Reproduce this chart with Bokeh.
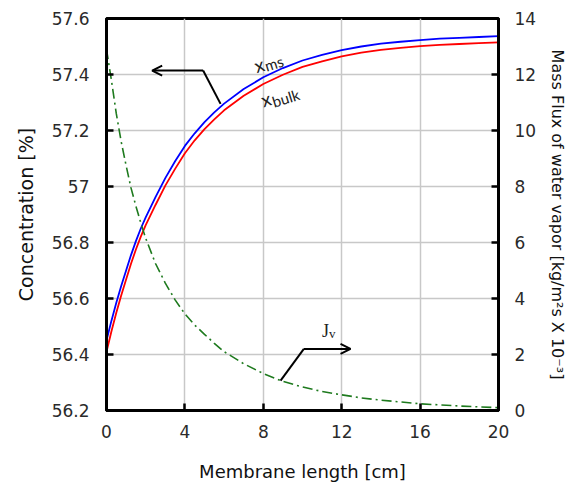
import math
from bokeh.plotting import figure
from bokeh.models import (Range1d, LinearAxis, FixedTicker, CustomJSTickFormatter,
                          Arrow, OpenHead, Label)
from bokeh.embed import file_html
from bokeh.resources import INLINE

# ---- data ----
length_cm = [0, 0.25, 0.5, 0.75, 1, 1.25, 1.5, 1.75, 2, 2.5, 3, 3.5, 4, 4.5, 5, 5.5, 6,
             7, 8, 9, 10, 11, 12, 13, 14, 15, 16, 17, 18, 19, 20]
x_ms = [56.45, 56.52, 56.585, 56.645, 56.70, 56.755, 56.805, 56.85, 56.89, 56.962,
        57.03, 57.09, 57.145, 57.19, 57.23, 57.265, 57.296, 57.348, 57.39, 57.423,
        57.45, 57.47, 57.487, 57.5, 57.51, 57.517, 57.523, 57.528, 57.531, 57.534, 57.537]
x_bulk = [56.41, 56.482, 56.549, 56.611, 56.668, 56.724, 56.775, 56.821, 56.862, 56.934,
          57.003, 57.063, 57.119, 57.165, 57.205, 57.24, 57.272, 57.324, 57.366, 57.399,
          57.427, 57.447, 57.465, 57.478, 57.488, 57.495, 57.501, 57.506, 57.509, 57.512,
          57.515]

flux_len = [0, 0.25, 0.5, 0.75, 1, 1.25, 1.5, 1.75, 2, 2.5, 3, 3.5, 4, 4.5, 5, 5.5, 6,
            7, 8, 9, 10, 11, 12, 13, 14, 16, 18, 20]
flux_jv = [12.9, 11.8, 10.6, 9.6, 8.75, 7.95, 7.3, 6.7, 6.15, 5.25, 4.55, 3.95, 3.45,
           3.05, 2.72, 2.4, 2.1, 1.67, 1.32, 1.04, 0.84, 0.68, 0.56, 0.45, 0.37, 0.24,
           0.16, 0.10]

x_ticks = [0, 4, 8, 12, 16, 20]
conc_ticks = [56.2, 56.4, 56.6, 56.8, 57.0, 57.2, 57.4, 57.6]
flux_ticks = [0, 2, 4, 6, 8, 10, 12, 14]

# annotation anchor points (data coords)
xs_arrow_path = ([5.82, 4.93], [57.295, 57.414])
xs_arrow_tip = (2.33, 57.414)
jv_arrow_path = ([8.88, 10.07], [1.07, 2.2])
jv_arrow_tip = (12.45, 2.2)

FONT = "DejaVu Sans"

p = figure(width=566, height=480, output_backend="svg", toolbar_location=None,
           x_range=Range1d(0, 20), y_range=Range1d(56.2, 57.6),
           frame_width=392, frame_height=392,
           min_border_left=106, min_border_top=18, min_border_right=66, min_border_bottom=70)
p.extra_y_ranges = {"flux": Range1d(0, 14)}

p.outline_line_color = "black"
p.outline_line_width = 3
p.background_fill_color = "white"
p.border_fill_color = "white"

# grids
p.xgrid.ticker = FixedTicker(ticks=x_ticks)
p.ygrid.ticker = FixedTicker(ticks=conc_ticks)
for g in (p.xgrid, p.ygrid):
    g.grid_line_color = "#c8c8c8"
    g.grid_line_width = 1.5

# lines
p.line(length_cm, x_ms, line_color="#0000ff", line_width=1.8)
p.line(length_cm, x_bulk, line_color="#ff0000", line_width=1.8)
p.line(flux_len, flux_jv, y_range_name="flux", line_color="#1e7a1e", line_width=1.6,
       line_dash="10 4 2 4")

# axes styling
def style_axis(ax, standoff, label_standoff, label_size):
    ax.axis_line_color = "black"
    ax.axis_line_width = 3
    ax.major_tick_in = 7
    ax.major_tick_out = 0
    ax.major_tick_line_width = 2.5
    ax.minor_tick_line_color = None
    ax.major_label_text_font = FONT
    ax.major_label_text_font_size = "17px"
    ax.major_label_text_color = "#2a2a2a"
    ax.major_label_standoff = standoff
    ax.axis_label_text_font = FONT
    ax.axis_label_text_font_size = label_size
    ax.axis_label_text_font_style = "normal"
    ax.axis_label_text_color = "#111111"
    ax.axis_label_standoff = label_standoff

xa = p.xaxis[0]
xa.ticker = FixedTicker(ticks=x_ticks)
xa.axis_label = "Membrane length [cm]"
style_axis(xa, 14, 20, "18px")

ya = p.yaxis[0]
ya.ticker = FixedTicker(ticks=conc_ticks)
ya.formatter = CustomJSTickFormatter(code="return (Math.round(tick*10)/10).toString();")
ya.axis_label = "Concentration [%]"
style_axis(ya, 17, 12, "19px")

ra = LinearAxis(y_range_name="flux", ticker=FixedTicker(ticks=flux_ticks),
                axis_label="Mass Flux of water vapor [kg/m\u00b2s X 10\u207b\u00b3]")
style_axis(ra, 16, 9, "16px")
p.add_layout(ra, "right")

# annotations: arrows
p.line(xs_arrow_path[0], xs_arrow_path[1], line_color="black", line_width=2)
p.add_layout(Arrow(end=OpenHead(size=10, line_width=2, line_color="black"),
                   x_start=xs_arrow_path[0][1], y_start=xs_arrow_path[1][1],
                   x_end=xs_arrow_tip[0], y_end=xs_arrow_tip[1],
                   line_width=2, line_color="black"))
p.line(jv_arrow_path[0], jv_arrow_path[1], y_range_name="flux", line_color="black", line_width=2)
p.add_layout(Arrow(end=OpenHead(size=10, line_width=2, line_color="black"),
                   x_start=jv_arrow_path[0][1], y_start=jv_arrow_path[1][1],
                   x_end=jv_arrow_tip[0], y_end=jv_arrow_tip[1],
                   y_range_name="flux", line_width=2, line_color="black"))

# subscripted labels
def sub_label(x, y, main, sub, angle, font, size, sub_size, w, d, y_range_name="default"):
    ca, sa = math.cos(angle), math.sin(angle)
    p.add_layout(Label(x=x, y=y, text=main, angle=angle, text_font=font,
                       text_font_size=size, text_color="#222222", text_baseline="alphabetic",
                       text_align="left", y_range_name=y_range_name))
    p.add_layout(Label(x=x, y=y, text=sub, angle=angle, text_font=font,
                       text_font_size=sub_size, text_color="#222222", text_baseline="alphabetic",
                       text_align="left", y_range_name=y_range_name,
                       x_offset=w * ca + d * sa, y_offset=w * sa - d * ca))

sub_label(7.55, 57.43, "x", "ms", 0.3, "Lato", "19px", "15px", 10, 3)
sub_label(7.9, 57.308, "x", "bulk", 0.3, "Lato", "19px", "15px", 10, 5)
sub_label(11.0, 2.85, "J", "v", 0.0, "Liberation Serif", "18px", "13px", 7, 3,
          y_range_name="flux")

open("out.html", "w").write(file_html(p, INLINE))
